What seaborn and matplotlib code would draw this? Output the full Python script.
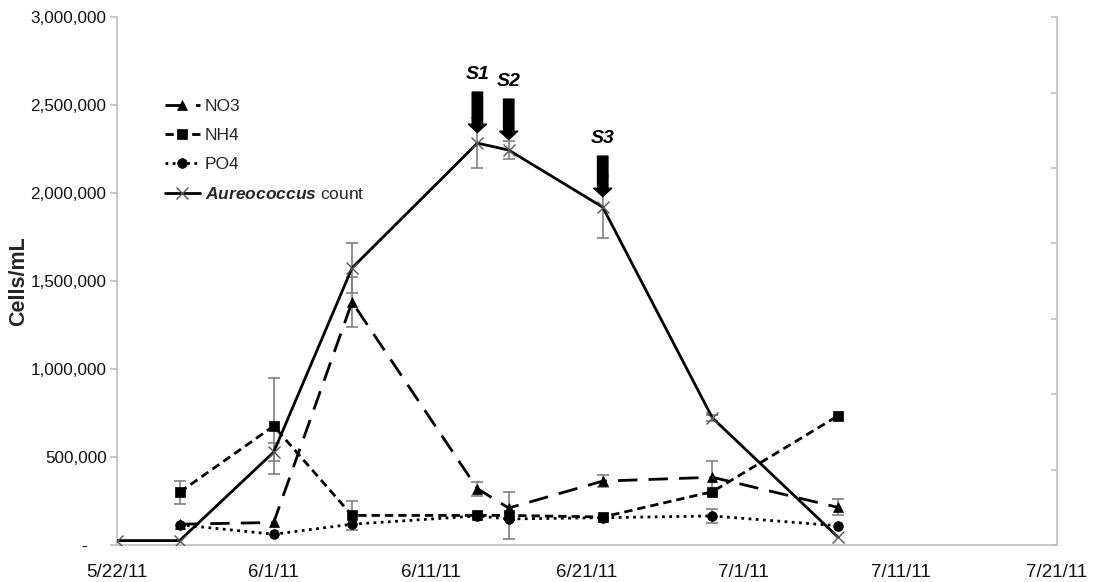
import numpy as np
import pandas as pd
import seaborn as sns
import matplotlib as mpl
from matplotlib import pyplot as plt

# sampling dates
dates_aureo = ['2011-05-22', '2011-05-26', '2011-06-01', '2011-06-06', '2011-06-14',
               '2011-06-16', '2011-06-22', '2011-06-29', '2011-07-07']
dates_nut = ['2011-05-26', '2011-06-01', '2011-06-06', '2011-06-14',
             '2011-06-16', '2011-06-22', '2011-06-29', '2011-07-07']

# series values (Cells/mL scale)
aureo = [25000, 25000, 528000, 1574000, 2284000, 2244000, 1920000, 722000, 46000]
aureo_err = [0, 0, 52000, 142000, 142000, 51000, 176000, 15000, 0]
no3 = [118000, 128000, 1381000, 320000, 210000, 363000, 385000, 214000]
no3_err = [0, 0, 142000, 40000, 0, 35000, 95000, 45000]
nh4 = [300000, 676000, 168000, 168000, 168000, 159000, 303000, 733000]
nh4_err = [65000, 275000, 80000, 0, 135000, 0, 0, 0]
po4 = [115000, 61000, 118000, 165000, 148000, 155000, 165000, 109000]
po4_err = [0, 0, 0, 0, 0, 0, 40000, 0]

# sample markers
sample_names = ['S1', 'S2', 'S3']
sample_dates = ['2011-06-14', '2011-06-16', '2011-06-22']

xtick_dates = ['2011-05-22', '2011-06-01', '2011-06-11', '2011-06-21',
               '2011-07-01', '2011-07-11', '2011-07-21']
xtick_labels = ['5/22/11', '6/1/11', '6/11/11', '6/21/11', '7/1/11', '7/11/11', '7/21/11']
ytick_vals = [0, 500000, 1000000, 1500000, 2000000, 2500000, 3000000]
ytick_labels = ['-    ', '500,000', '1,000,000', '1,500,000', '2,000,000', '2,500,000', '3,000,000']

sns.set_style('white')
plt.rcParams['font.family'] = ['Liberation Sans', 'DejaVu Sans']
plt.rcParams['mathtext.fontset'] = 'custom'
plt.rcParams['mathtext.rm'] = 'Liberation Sans'
plt.rcParams['mathtext.bf'] = 'Liberation Sans:bold'
if 'mathtext.bfit' in plt.rcParams:
    plt.rcParams['mathtext.bfit'] = 'Liberation Sans:italic:bold'
    aureo_label = r'$\mathbfit{Aureococcus}$ count'
else:
    aureo_label = r'$\bf{Aureococcus}$ count'

grey = '#bfbfbf'

fig = plt.figure(figsize=(11.06, 5.82), dpi=100)
ax = fig.add_axes([0.1058, 0.0636, 0.850, 0.907])

xa = pd.to_datetime(dates_aureo)
xn = pd.to_datetime(dates_nut)

series = [
    (xn, no3, no3_err, '^', 7.5, (0, (7, 4)), 'NO3', 'black'),
    (xn, nh4, nh4_err, 's', 6.5, (0, (3, 1.8)), 'NH4', 'black'),
    (xn, po4, po4_err, 'o', 7, (0, (1, 1.6)), 'PO4', 'black'),
    (xa, aureo, aureo_err, 'x', 9, '-', aureo_label, '#555555'),
]

for x, y, e, m, ms, ls, lab, mec in series:
    x = np.array(x)
    y = np.array(y)
    e = np.array(e)
    keep = e > 0
    ax.errorbar(x[keep], y[keep], yerr=e[keep], fmt='none', ecolor='#808080',
                elinewidth=1.2, capsize=4, capthick=1.2, zorder=2)
    sns.lineplot(x=x, y=y, ax=ax, color='black', lw=2.0, ls=ls, marker=m, ms=ms,
                 mec=mec, mfc='black', mew=1.0 if m == 'x' else 0.5, label=lab,
                 errorbar=None, zorder=3)

# sample arrows
aureo_by_date = dict(zip(dates_aureo, aureo))
for name, d in zip(sample_names, sample_dates):
    xd = pd.Timestamp(d)
    tip = aureo_by_date[d] + 60000
    top = tip + 230000
    ax.annotate('', xy=(xd, tip), xytext=(xd, top),
                arrowprops=dict(facecolor='black', edgecolor='black', width=7.5,
                                headwidth=13, headlength=6, shrink=0))
    ax.text(xd, top + 100000, name, ha='center', va='center', fontsize=14,
            fontweight='bold', fontstyle='italic', color='black')

ax.set_xlim(pd.Timestamp('2011-05-22'), pd.Timestamp('2011-07-21'))
ax.set_ylim(0, 3000000)
ax.set_xticks(pd.to_datetime(xtick_dates))
ax.set_xticklabels(xtick_labels)
ax.set_yticks(ytick_vals)
ax.set_yticklabels(ytick_labels)
ax.set_xlabel('')
ax.set_ylabel('Cells/mL', fontsize=15.5, fontweight='bold')
ax.yaxis.set_label_coords(-0.093, 0.5)

for s in ['top', 'right']:
    ax.spines[s].set_visible(False)
for s in ['left', 'bottom']:
    ax.spines[s].set_color(grey)
    ax.spines[s].set_linewidth(1.2)
ax.tick_params(axis='both', direction='out', length=5, width=1.2, color=grey,
               labelcolor='#111111')
ax.tick_params(axis='y', labelsize=12.3, pad=2.5)
ax.tick_params(axis='x', labelsize=13.5, pad=9)

# secondary axis (no labels)
ax2 = ax.twinx()
ax2.set_ylim(0, 7)
ax2.set_yticks(range(8))
ax2.set_yticklabels([])
ax2.tick_params(axis='y', direction='in', length=4, width=1.2, color=grey)
for s in ['top', 'left', 'bottom']:
    ax2.spines[s].set_visible(False)
ax2.spines['right'].set_color(grey)
ax2.spines['right'].set_linewidth(1.2)

handles, labels = ax.get_legend_handles_labels()
if ax.get_legend():
    ax.get_legend().remove()
leg = ax2.legend(handles, labels, loc='upper left', bbox_to_anchor=(0.051, 0.845),
                 frameon=False, fontsize=12.5, handlelength=2.0, handletextpad=0.3,
                 labelspacing=0.8, borderpad=0, borderaxespad=0)

fig.savefig('out.png', dpi=100)
